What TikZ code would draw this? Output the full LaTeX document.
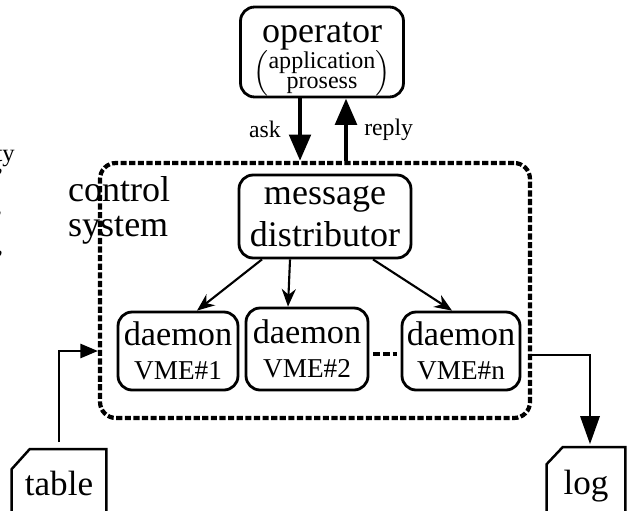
\documentclass[tikz,border=0pt]{standalone}
\usepackage{amsmath}
\usepackage{fontspec}
\setmainfont{Liberation Serif}
\usetikzlibrary{arrows.meta}

\begin{document}
\begin{tikzpicture}[x=0.02cm, y=-0.02cm]
    \tikzstyle{box} = [rectangle, rounded corners=8pt, draw=black, line width=1.6pt, align=center, inner sep=0pt]
    \tikzstyle{daemon} = [box, minimum width=2.4cm, minimum height=1.56cm, font=\fontsize{19.5}{19}\selectfont]
    \tikzstyle{datafile} = [rectangle, inner sep=0pt, font=\fontsize{20}{20}\selectfont]
    \tikzstyle{bigarrow} = [line width=2.8pt, -{Triangle[length=15pt,width=12pt]}]
    \tikzstyle{arrow} = [line width=1.2pt, -{Stealth[length=10pt,width=8pt]}]
    \tikzstyle{wire} = [line width=1.4pt]
    \useasboundingbox (0,0) rectangle (628,510);

    % cut-off text at the left border
    \node[anchor=east, font=\fontsize{14}{14}\selectfont] (cutA) at (21,157) {rty};
    \node[anchor=east, font=\fontsize{14}{14}\selectfont] (cutB) at (9,177) {0''};
    \node[anchor=east, font=\fontsize{14}{14}\selectfont] (cutC) at (8,219) {''};
    \node[anchor=east, font=\fontsize{14}{14}\selectfont] (cutD) at (9,259) {0''};

    \node[box, minimum width=3.26cm, minimum height=1.8cm] (op) at (322,52)
        {{\fontsize{20.5}{20}\selectfont\rule{0pt}{20pt}operator}\\[-1pt]
         {\fontsize{13.7}{11.5}\selectfont $\left(\vcenter{\hbox{\begin{tabular}{@{}c@{}}application\\prosess\end{tabular}}}\right)$}};

    \node[draw, line width=2.4pt, dash pattern=on 3.5pt off 1.4pt, rounded corners=9pt, minimum width=8.6cm, minimum height=5.1cm] (ctrl) at (315,290.5) {};
    \node[anchor=west, align=left, font=\fontsize{20.5}{20}\selectfont] (ctrltext) at (62,210) {control\\system};

    \node[box, minimum width=3.44cm, minimum height=1.66cm, font=\fontsize{20.5}{23.5}\selectfont] (dist) at (325,216.5) {message\\distributor};

    \node[daemon] (d1) at (178,351) {daemon\\{\fontsize{15.5}{15.5}\selectfont VME\#1}};
    \node[daemon, minimum width=2.44cm, minimum height=1.64cm] (d2) at (307,349) {daemon\\{\fontsize{15.5}{15.5}\selectfont VME\#2}};
    \node[daemon, minimum width=2.36cm] (d3) at (461,351) {daemon\\{\fontsize{15.5}{15.5}\selectfont VME\#n}};
    \draw[line width=2.6pt, dash pattern=on 4pt off 1.5pt, shorten <=0.08cm, shorten >=0.08cm] ([yshift=-0.1cm]d2.east) -- ([yshift=-0.1cm]d2.east -| d3.west);

    \draw[arrow] ([xshift=-1.26cm]dist.south) -- ([xshift=0.38cm]d1.north);
    \draw[arrow] ([xshift=-0.7cm]dist.south) -- ([xshift=-0.38cm]d2.north);
    \draw[arrow] ([xshift=0.96cm]dist.south) -- ([xshift=-0.18cm]d3.north);

    \coordinate (askx) at ([xshift=-0.44cm]op.south);
    \coordinate (replyx) at ([xshift=0.48cm]op.south);
    \draw[bigarrow] (askx) -- (askx |- ctrl.north) node[midway, left=0.22cm, font=\fontsize{13.5}{13}\selectfont] {ask};
    \draw[bigarrow] (replyx |- ctrl.north) -- (replyx) node[midway, right=0.2cm, font=\fontsize{13.5}{13}\selectfont] {reply};

    % files
    \node[datafile, minimum width=1.88cm, minimum height=1.5cm] (table) at (59,487) {\raisebox{4pt}{table}};
    \draw[wire] (table.south west) -- ([yshift=-0.4cm]table.north west) -- ([xshift=0.36cm]table.north west) -- (table.north east) -- (table.south east);
    \node[datafile, minimum width=1.56cm, minimum height=1.54cm] (log) at (586,486) {\raisebox{2pt}{log}};
    \draw[wire] (log.south west) -- ([yshift=-0.34cm]log.north west) -- ([xshift=0.32cm]log.north west) -- (log.north east) -- (log.south east);

    \draw[wire, -{Triangle[length=10pt,width=8pt]}] ([yshift=0.14cm]table.north) |- (ctrl.west |- d1.center);
    \draw[wire, -{Triangle[length=16pt,width=11pt]}] ([yshift=-0.08cm]ctrl.east |- d3.center) -| ([xshift=0.08cm, yshift=0.06cm]log.north);
\end{tikzpicture}
\end{document}
